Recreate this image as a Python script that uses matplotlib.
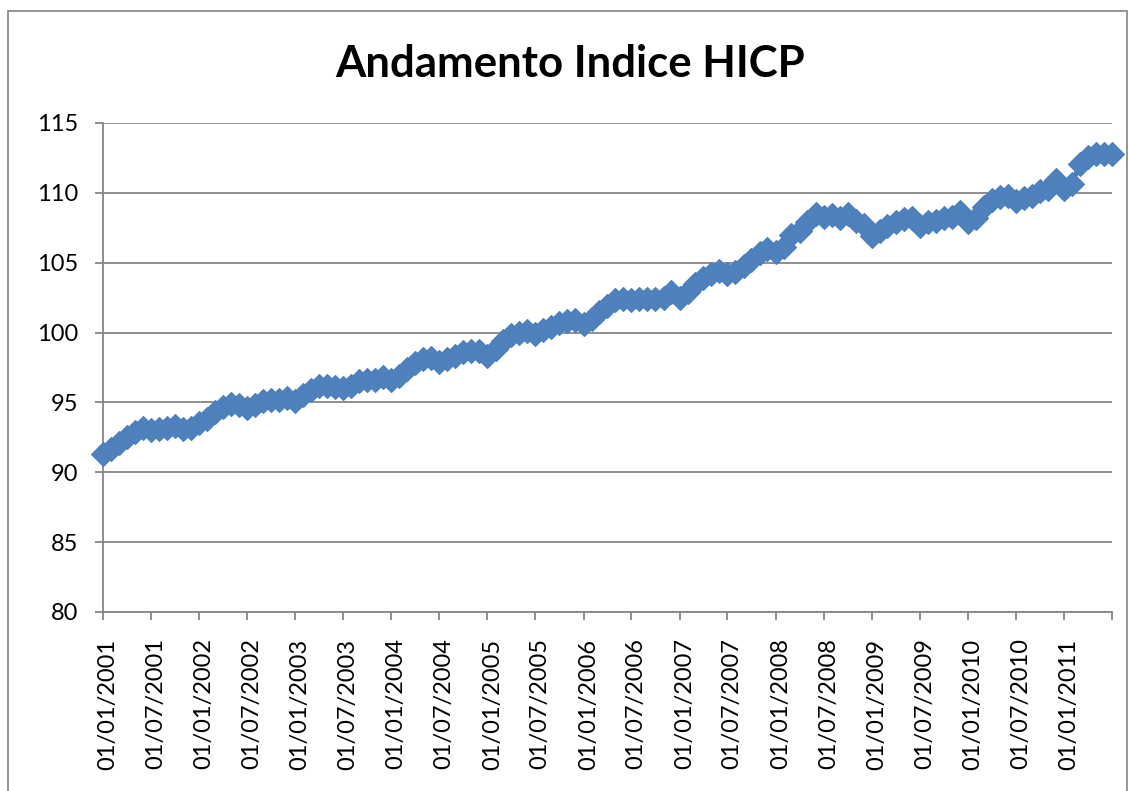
import matplotlib
matplotlib.use("Agg")
import matplotlib.pyplot as plt
import matplotlib.dates as mdates
import matplotlib.transforms as mtransforms
from matplotlib.patches import Rectangle
import pandas as pd

plt.rcParams['font.family'] = ['Lato', 'DejaVu Sans']

title = "Andamento Indice HICP"
start_month = "2001-01-01"
hicp_2001 = [91.3, 91.7, 92.1, 92.5, 92.9, 93.2, 93.0, 93.1, 93.2, 93.3, 93.1, 93.2]
hicp_2002 = [93.5, 93.8, 94.3, 94.7, 94.9, 94.8, 94.6, 94.8, 95.1, 95.2, 95.2, 95.3]
hicp_2003 = [95.1, 95.5, 95.9, 96.2, 96.2, 96.1, 96.0, 96.2, 96.5, 96.6, 96.6, 96.8]
hicp_2004 = [96.6, 96.9, 97.4, 97.8, 98.1, 98.2, 97.9, 98.1, 98.3, 98.6, 98.7, 98.7]
hicp_2005 = [98.3, 98.8, 99.4, 99.8, 100.0, 100.1, 99.9, 100.2, 100.4, 100.7, 100.8, 100.9]
hicp_2006 = [100.6, 101.0, 101.5, 101.9, 102.3, 102.4, 102.3, 102.4, 102.4, 102.4, 102.5, 102.9]
hicp_2007 = [102.5, 102.9, 103.5, 103.9, 104.2, 104.4, 104.2, 104.3, 104.8, 105.2, 105.7, 106.0]
hicp_2008 = [105.8, 106.1, 107.0, 107.3, 107.9, 108.5, 108.3, 108.4, 108.2, 108.5, 108.0, 107.7]
hicp_2009 = [106.9, 107.3, 107.6, 107.9, 108.1, 108.2, 107.6, 107.9, 108.0, 108.2, 108.3, 108.6]
hicp_2010 = [107.9, 108.2, 109.0, 109.5, 109.7, 109.8, 109.4, 109.6, 109.8, 110.1, 110.3, 110.9]
hicp_2011 = [110.3, 110.6, 112.1, 112.6, 112.8, 112.8, 112.8]

y_ticks = [80, 85, 90, 95, 100, 105, 110, 115]

values = (hicp_2001 + hicp_2002 + hicp_2003 + hicp_2004 + hicp_2005 + hicp_2006
          + hicp_2007 + hicp_2008 + hicp_2009 + hicp_2010 + hicp_2011)
dates = pd.date_range(start_month, periods=len(values), freq="MS")

W, H = 1129, 791
fig = plt.figure(figsize=(W / 100, H / 100), dpi=100)
fig.patch.set_facecolor("white")

# outer chart border
fig.patches.append(Rectangle((8 / W, -0.05), (1127 - 8) / W, 1.05 - 10.7 / H,
                             transform=fig.transFigure, fill=False,
                             edgecolor="#8c8c8c", linewidth=1.3))

ax = fig.add_axes([103 / W, 1 - 612 / H, (1111.7 - 103) / W, (612 - 123) / H])

ax.plot(dates, values, color="#4A7EBB", linewidth=3.4, marker="D", markersize=12,
        markerfacecolor="#4F81BD", markeredgecolor="#4A7EBB", markeredgewidth=0.8,
        zorder=3, clip_on=False)

ax.set_ylim(80, 115)
ax.set_yticks(y_ticks)
ax.set_xlim(dates[0], dates[-1])

tick_dates = pd.date_range(dates[0], dates[-1], freq="6MS")
ax.set_xticks(tick_dates)
labels = [d.strftime("%d/%m/%Y") for d in tick_dates]
labels[-1] = ""
ax.set_xticklabels(labels, rotation=90, ha="center", va="top")

grid_col = "#868686"
ax.grid(axis="y", color=grid_col, linewidth=1.3)
ax.set_axisbelow(True)
for s in ["top", "right"]:
    ax.spines[s].set_visible(False)
for s in ["left", "bottom"]:
    ax.spines[s].set_color(grid_col)
    ax.spines[s].set_linewidth(1.3)

ax.tick_params(axis="both", colors=grid_col, length=6, width=1.3, direction="out",
               labelcolor="black", labelsize=17)
ax.tick_params(axis="y", pad=12)
ax.tick_params(axis="x", pad=13)

offset = mtransforms.ScaledTranslation(5 / 100, 0, fig.dpi_scale_trans)
for lab in ax.get_xticklabels():
    lab.set_transform(lab.get_transform() + offset)

fig.text(570 / W, 1 - 76.7 / H, title, ha="center", va="baseline",
         fontsize=31.5, fontweight="bold", color="black")

fig.savefig("out.png", dpi=100, facecolor="white")
